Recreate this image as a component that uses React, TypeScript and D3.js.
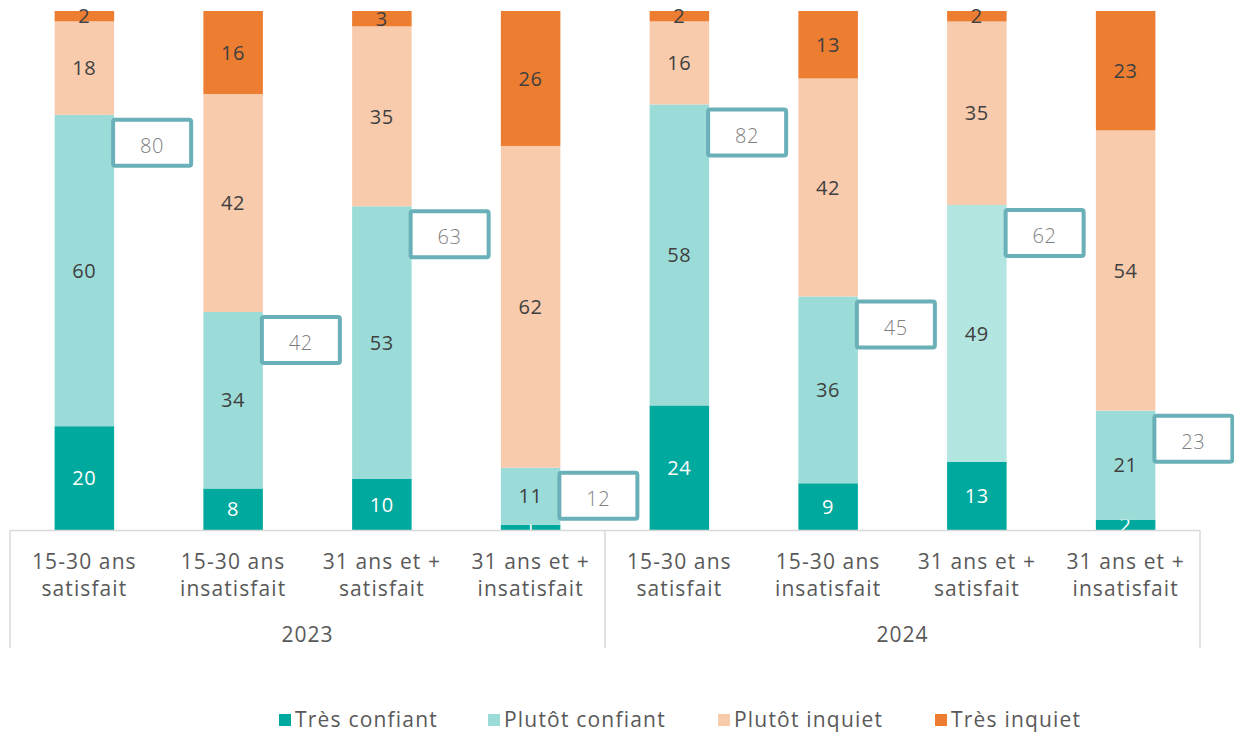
import * as d3 from "d3";

// 100% stacked bars
const categories = [
  "15-30 ans|satisfait",
  "15-30 ans|insatisfait",
  "31 ans et +|satisfait",
  "31 ans et +|insatisfait",
  "15-30 ans|satisfait",
  "15-30 ans|insatisfait",
  "31 ans et +|satisfait",
  "31 ans et +|insatisfait",
];
const years = ["2023", "2024"];
const seriesNames = ["Très confiant", "Plutôt confiant", "Plutôt inquiet", "Très inquiet"];
const tresConfiant = [20, 8, 10, 1, 24, 9, 13, 2];
const plutotConfiant = [60, 34, 53, 11, 58, 36, 49, 21];
const plutotInquiet = [18, 42, 35, 62, 16, 42, 35, 54];
const tresInquiet = [2, 16, 3, 26, 2, 13, 2, 23];
const totalConfiant = [80, 42, 63, 12, 82, 45, 62, 23];

const colors = ["#00a99d", "#9cdcd8", "#f8cbad", "#ed7d31"];
const textColors = ["#ffffff", "#404040", "#404040", "#404040"];
const FONT = "'Open Sans', sans-serif";

export default function App() {
  const W = 1234;
  const H = 733;
  const left = 10;
  const right = 1200;
  const baseY = 530;
  const topY = 11;

  const rows = categories.map((c, i) => ({
    key: String(i),
    cat: c,
    "Très confiant": tresConfiant[i],
    "Plutôt confiant": plutotConfiant[i],
    "Plutôt inquiet": plutotInquiet[i],
    "Très inquiet": tresInquiet[i],
  }));

  const stack = d3
    .stack<any>()
    .keys(seriesNames)
    .offset(d3.stackOffsetExpand);
  const layers = stack(rows);

  const x = d3
    .scaleBand<string>()
    .domain(rows.map((r) => r.key))
    .range([left, right])
    .paddingInner(0.6)
    .paddingOuter(0.3);
  const y = d3.scaleLinear().domain([0, 1]).range([baseY, topY]);

  const groupX = d3.scaleBand<string>().domain(years).range([left, right]);
  const bw = x.bandwidth();

  return (
    <svg
      width={W}
      height={H}
      style={{ position: "absolute", left: 0, top: 0 }}
      fontFamily={FONT}
      fontWeight={300}
    >
      {layers.map((layer, li) =>
        layer.map((d, i) => {
          const x0 = x(String(i))!;
          const y0 = y(d[1]);
          const h = y(d[0]) - y(d[1]);
          // lighter shade for one bar in the reference
          const fill = li === 1 && i === 6 ? "#b3e5e1" : colors[li];
          return (
            <g key={`${li}-${i}`}>
              <rect x={x0} y={y0} width={bw} height={h} fill={fill} />
              <text
                x={x0 + bw / 2}
                y={y0 + h / 2}
                dy="0.36em"
                textAnchor="middle"
                fontSize={20}
                fontWeight={400}
                letterSpacing={0.8}
                fill={textColors[li]}
              >
                {d.data[seriesNames[li]]}
              </text>
            </g>
          );
        })
      )}

      {/* total confiant boxes */}
      {totalConfiant.map((t, i) => {
        const confTop = y(layers[1][i][1]);
        const bx = x(String(i))! + bw - 3;
        const by = confTop + 3;
        return (
          <g key={`tot-${i}`}>
            <rect
              x={bx + 2}
              y={by + 2}
              width={78}
              height={46}
              rx={2}
              fill="#ffffff"
              stroke="#6ab0b8"
              strokeWidth={4}
            />
            <text
              x={bx + 41}
              y={by + 28}
              dy="0.36em"
              textAnchor="middle"
              fontSize={20}
              letterSpacing={0.8}
              fill="#7f7f7f"
            >
              {t}
            </text>
          </g>
        );
      })}

      {/* axis */}
      <line x1={left} x2={right} y1={baseY + 0.5} y2={baseY + 0.5} stroke="#d9d9d9" strokeWidth={1.5} />
      {[left, groupX("2024")!, right].map((gx, i) => (
        <line key={`sep-${i}`} x1={gx} x2={gx} y1={baseY} y2={648} stroke="#d9d9d9" strokeWidth={1.5} />
      ))}
      {rows.map((r) => {
        const [l1, l2] = r.cat.split("|");
        const cx = x(r.key)! + bw / 2;
        return (
          <text
            key={`cat-${r.key}`}
            textAnchor="middle"
            fontSize={21}
            fontWeight={400}
            letterSpacing={1.1}
            fill="#595959"
          >
            <tspan x={cx} y={569}>
              {l1}
            </tspan>
            <tspan x={cx} y={596}>
              {l2}
            </tspan>
          </text>
        );
      })}
      {years.map((yr) => (
        <text
          key={yr}
          x={groupX(yr)! + groupX.bandwidth() / 2}
          y={642}
          textAnchor="middle"
          fontSize={21}
          fontWeight={400}
          letterSpacing={1}
          fill="#595959"
        >
          {yr}
        </text>
      ))}

      {/* legend */}
      {seriesNames.map((s, i) => {
        const lx = [279, 488, 718, 935][i];
        return (
          <g key={s}>
            <rect x={lx} y={714} width={12} height={12} fill={colors[i]} />
            <text
              x={lx + 16}
              y={727}
              fontSize={21}
              fontWeight={400}
              letterSpacing={1.2}
              fill="#595959"
            >
              {s}
            </text>
          </g>
        );
      })}
    </svg>
  );
}
